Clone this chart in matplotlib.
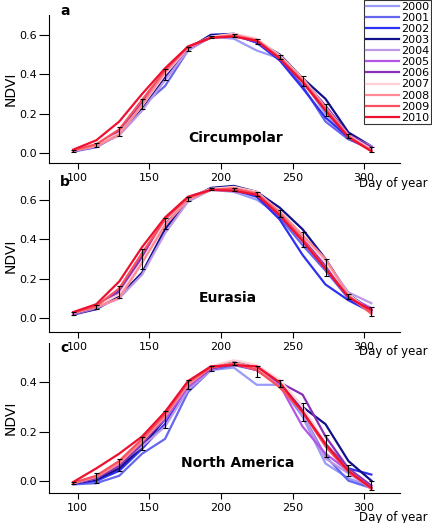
import matplotlib
matplotlib.use("Agg")
import matplotlib.pyplot as plt
from matplotlib.ticker import FormatStrFormatter

plt.rcParams['font.family'] = ['DejaVu Sans']

# 16-day composite periods (day of year)
days = [97, 113, 129, 145, 161, 177, 193, 209, 225, 241, 257, 273, 289, 305]
years = ['2000', '2001', '2002', '2003', '2004', '2005',
         '2006', '2007', '2008', '2009', '2010']
year_colors = ['#9a9af8', '#6666f0', '#3030f0', '#10108a', '#bb99e6', '#b455e8',
               '#8830b8', '#ffd0d4', '#ff8a94', '#f8505f', '#ee1030']

# ---- Circumpolar ----
circ_mean = [0.012, 0.040, 0.110, 0.250, 0.400, 0.530, 0.587, 0.597, 0.565, 0.486, 0.364, 0.220, 0.087, 0.019]
circ_err = [0.005, 0.010, 0.024, 0.026, 0.027, 0.010, 0.006, 0.008, 0.013, 0.010, 0.026, 0.030, 0.010, 0.012]
circ = {
    '2000': [0.010, 0.035, 0.100, 0.230, 0.390, 0.520, 0.590, 0.580, 0.520, 0.480, 0.370, 0.200, 0.080, 0.030],
    '2001': [0.008, 0.030, 0.095, 0.240, 0.340, 0.520, 0.595, 0.600, 0.560, 0.480, 0.340, 0.160, 0.070, 0.020],
    '2002': [0.010, 0.035, 0.100, 0.240, 0.390, 0.525, 0.600, 0.600, 0.560, 0.470, 0.330, 0.180, 0.080, 0.015],
    '2003': [0.012, 0.040, 0.105, 0.225, 0.385, 0.530, 0.598, 0.605, 0.570, 0.500, 0.380, 0.275, 0.105, 0.035],
    '2004': [0.010, 0.035, 0.090, 0.215, 0.370, 0.520, 0.590, 0.600, 0.575, 0.490, 0.370, 0.230, 0.090, 0.035],
    '2005': [0.012, 0.040, 0.110, 0.250, 0.400, 0.530, 0.585, 0.595, 0.570, 0.490, 0.370, 0.230, 0.090, 0.025],
    '2006': [0.012, 0.040, 0.110, 0.255, 0.410, 0.535, 0.585, 0.595, 0.565, 0.495, 0.375, 0.240, 0.095, 0.030],
    '2007': [0.015, 0.045, 0.100, 0.240, 0.400, 0.535, 0.590, 0.605, 0.580, 0.495, 0.380, 0.230, 0.090, 0.020],
    '2008': [0.012, 0.035, 0.095, 0.245, 0.410, 0.535, 0.585, 0.600, 0.575, 0.490, 0.375, 0.225, 0.085, 0.015],
    '2009': [0.015, 0.045, 0.120, 0.270, 0.420, 0.540, 0.585, 0.595, 0.570, 0.480, 0.365, 0.225, 0.085, 0.010],
    '2010': [0.018, 0.065, 0.160, 0.300, 0.430, 0.540, 0.585, 0.590, 0.570, 0.480, 0.360, 0.215, 0.080, 0.010],
}

# ---- Eurasia ----
eura_mean = [0.022, 0.056, 0.130, 0.300, 0.480, 0.605, 0.654, 0.652, 0.628, 0.530, 0.400, 0.258, 0.110, 0.035]
eura_err = [0.007, 0.010, 0.030, 0.050, 0.027, 0.010, 0.004, 0.008, 0.010, 0.020, 0.038, 0.043, 0.012, 0.023]
eura = {
    '2000': [0.015, 0.045, 0.120, 0.290, 0.470, 0.600, 0.650, 0.640, 0.600, 0.520, 0.390, 0.250, 0.100, 0.030],
    '2001': [0.018, 0.050, 0.140, 0.320, 0.490, 0.610, 0.655, 0.650, 0.620, 0.510, 0.370, 0.240, 0.100, 0.030],
    '2002': [0.020, 0.055, 0.140, 0.300, 0.480, 0.605, 0.655, 0.650, 0.615, 0.500, 0.320, 0.170, 0.090, 0.030],
    '2003': [0.020, 0.045, 0.110, 0.230, 0.450, 0.600, 0.660, 0.670, 0.640, 0.560, 0.450, 0.300, 0.120, 0.040],
    '2004': [0.020, 0.050, 0.100, 0.220, 0.430, 0.590, 0.650, 0.660, 0.630, 0.540, 0.410, 0.290, 0.130, 0.075],
    '2005': [0.022, 0.055, 0.130, 0.300, 0.500, 0.610, 0.655, 0.655, 0.630, 0.530, 0.400, 0.270, 0.110, 0.050],
    '2006': [0.022, 0.055, 0.130, 0.310, 0.500, 0.610, 0.650, 0.655, 0.630, 0.530, 0.400, 0.270, 0.110, 0.040],
    '2007': [0.025, 0.060, 0.120, 0.290, 0.490, 0.610, 0.655, 0.665, 0.640, 0.540, 0.420, 0.280, 0.120, 0.030],
    '2008': [0.025, 0.055, 0.100, 0.280, 0.470, 0.600, 0.650, 0.660, 0.635, 0.540, 0.420, 0.300, 0.115, 0.020],
    '2009': [0.028, 0.060, 0.150, 0.330, 0.500, 0.610, 0.650, 0.655, 0.630, 0.530, 0.400, 0.250, 0.110, 0.025],
    '2010': [0.030, 0.070, 0.185, 0.360, 0.510, 0.615, 0.650, 0.645, 0.625, 0.520, 0.390, 0.250, 0.105, 0.040],
}

# ---- North America ----
nam_mean = [-0.010, 0.010, 0.065, 0.150, 0.250, 0.390, 0.457, 0.476, 0.445, 0.395, 0.280, 0.140, 0.041, -0.020]
nam_err = [0.004, 0.021, 0.024, 0.026, 0.034, 0.019, 0.010, 0.006, 0.022, 0.014, 0.038, 0.044, 0.021, 0.017]
nam = {
    '2000': [-0.012, -0.005, 0.050, 0.140, 0.230, 0.370, 0.450, 0.460, 0.390, 0.390, 0.260, 0.070, 0.010, -0.025],
    '2001': [-0.015, -0.010, 0.020, 0.110, 0.170, 0.360, 0.450, 0.470, 0.450, 0.390, 0.270, 0.100, 0.000, -0.030],
    '2002': [-0.012, 0.000, 0.040, 0.130, 0.230, 0.380, 0.460, 0.475, 0.450, 0.390, 0.290, 0.150, 0.050, 0.025],
    '2003': [-0.010, 0.005, 0.050, 0.140, 0.250, 0.390, 0.460, 0.485, 0.460, 0.400, 0.300, 0.230, 0.080, 0.000],
    '2004': [-0.010, 0.010, 0.070, 0.140, 0.220, 0.370, 0.450, 0.480, 0.460, 0.400, 0.270, 0.090, 0.030, -0.030],
    '2005': [-0.010, 0.010, 0.075, 0.160, 0.250, 0.380, 0.455, 0.475, 0.450, 0.390, 0.220, 0.110, 0.040, -0.030],
    '2006': [-0.010, 0.010, 0.060, 0.150, 0.260, 0.390, 0.455, 0.475, 0.460, 0.400, 0.350, 0.180, 0.050, -0.020],
    '2007': [-0.010, 0.020, 0.080, 0.170, 0.270, 0.400, 0.465, 0.490, 0.470, 0.410, 0.300, 0.150, 0.040, -0.030],
    '2008': [-0.010, 0.015, 0.070, 0.160, 0.260, 0.390, 0.460, 0.480, 0.460, 0.380, 0.280, 0.140, 0.040, -0.035],
    '2009': [-0.008, 0.020, 0.080, 0.170, 0.270, 0.400, 0.460, 0.475, 0.450, 0.380, 0.280, 0.140, 0.035, -0.030],
    '2010': [-0.005, 0.050, 0.110, 0.180, 0.280, 0.405, 0.465, 0.470, 0.465, 0.400, 0.280, 0.150, 0.040, -0.030],
}

W, H = 432, 523
fig = plt.figure(figsize=(W / 100, H / 100), dpi=100)

def px_box(top, bottom, left=49, right=400):
    # axes rectangle from pixel edges
    return [left / W, 1 - bottom / H, (right - left) / W, (bottom - top) / H]

panels = [
    # data, mean, err, name, letter, (top, bottom) px, ylim, yticks, name pos, letter y px, "Day of year" y px
    (circ, circ_mean, circ_err, 'Circumpolar', 'a', (15, 163), (-0.05, 0.70), [0.0, 0.2, 0.4, 0.6], (210, 0.077), 15, 184),
    (eura, eura_mean, eura_err, 'Eurasia', 'b', (180, 332), (-0.071, 0.70), [0.0, 0.2, 0.4, 0.6], (205, 0.103), 186, 351),
    (nam, nam_mean, nam_err, 'North America', 'c', (343, 493), (-0.05, 0.56), [0.0, 0.2, 0.4], (212, 0.074), 352, 518),
]

handles, labels = None, None
for data, mean, err, name, letter, (top, bottom), ylim, yticks, (nx, ny), ly, dy in panels:
    ax = fig.add_axes(px_box(top, bottom))
    for yr, col in zip(years, year_colors):
        ax.plot(days, data[yr], color=col, lw=1.6, label=yr, solid_joinstyle='round')
    ax.errorbar(days, mean, yerr=err, fmt='none', ecolor='black', elinewidth=0.8,
                capsize=1.8, capthick=0.8, zorder=5)
    ax.set_xlim(80, 325)
    ax.set_ylim(*ylim)
    ax.set_xticks([100, 150, 200, 250, 300])
    ax.set_yticks(yticks)
    ax.yaxis.set_major_formatter(FormatStrFormatter('%.1f'))
    for s in ['top', 'right']:
        ax.spines[s].set_visible(False)
    for s in ['left', 'bottom']:
        ax.spines[s].set_linewidth(0.8)
    ax.tick_params(axis='x', length=4, width=0.8, pad=3, labelsize=8)
    ax.tick_params(axis='y', length=7, width=0.8, pad=1.5, labelsize=8)
    ax.set_ylabel('NDVI', fontsize=10)
    ax.yaxis.set_label_coords((17.5 - 49) / 351, 0.5)
    ax.text(nx, ny, name, fontsize=10, fontweight='bold', ha='center', va='center')
    ax.patch.set_alpha(0)
    fig.text(60 / W, 1 - ly / H, letter, fontsize=10, fontweight='bold', va='baseline')
    fig.text(359 / W, 1 - dy / H, 'Day of year', fontsize=8.5, va='center')
    if handles is None:
        handles, labels = ax.get_legend_handles_labels()

leg = fig.legend(handles, labels, loc='upper left', bbox_to_anchor=(364 / W, 1.0),
                 borderaxespad=0, fontsize=8, frameon=True, fancybox=False,
                 handlelength=3.0, handletextpad=0.2, labelspacing=0.1, borderpad=0.15)
leg.get_frame().set_edgecolor('black')
leg.get_frame().set_linewidth(0.8)

fig.savefig('out.png', dpi=100)
